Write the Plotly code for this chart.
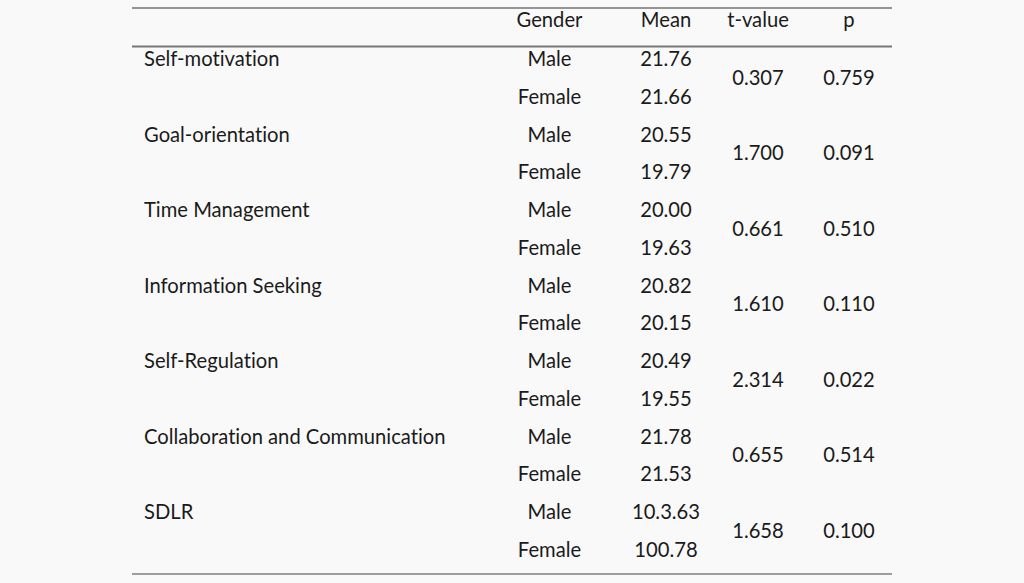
import plotly.graph_objects as go

categories = ["Self-motivation", "Goal-orientation", "Time Management",
              "Information Seeking", "Self-Regulation",
              "Collaboration and Communication", "SDLR"]
male_mean = ["21.76", "20.55", "20.00", "20.82", "20.49", "21.78", "10.3.63"]
female_mean = ["21.66", "19.79", "19.63", "20.15", "19.55", "21.53", "100.78"]
t_values = ["0.307", "1.700", "0.661", "1.610", "2.314", "0.655", "1.658"]
p_values = ["0.759", "0.091", "0.510", "0.110", "0.022", "0.514", "0.100"]
headers = ["Gender", "Mean", "t-value", "p"]

FONT = "Lato"
SIZE = 20.2
COLOR = "#1b1b1b"
BG = "#f9f9f9"

W, H = 1024, 583
x_cat, x_gender, x_mean, x_t, x_p = 144, 549.5, 666, 758, 849
y_header = 22
y0 = 61
pair = 75.5
half = 37.7

fig = go.Figure()
tf = dict(family=FONT, size=SIZE, color=COLOR)

fig.add_trace(go.Scatter(
    x=[x_gender, x_mean, x_t, x_p], y=[y_header] * 4, text=headers,
    mode="text", textposition="middle center", textfont=tf, hoverinfo="skip"))

n = len(categories)
ym = [y0 + i * pair for i in range(n)]
yf = [y + half for y in ym]
yc = [y + half / 2 for y in ym]

fig.add_trace(go.Scatter(
    x=[x_cat] * n, y=ym, text=categories,
    mode="text", textposition="middle right", textfont=tf, hoverinfo="skip"))
fig.add_trace(go.Scatter(
    x=[x_gender] * n * 2, y=ym + yf,
    text=["Male"] * n + ["Female"] * n,
    mode="text", textposition="middle center", textfont=tf, hoverinfo="skip"))
fig.add_trace(go.Scatter(
    x=[x_mean] * n * 2, y=ym + yf, text=male_mean + female_mean,
    mode="text", textposition="middle center", textfont=tf, hoverinfo="skip"))
fig.add_trace(go.Scatter(
    x=[x_t] * n, y=yc, text=t_values,
    mode="text", textposition="middle center", textfont=tf, hoverinfo="skip"))
fig.add_trace(go.Scatter(
    x=[x_p] * n, y=yc, text=p_values,
    mode="text", textposition="middle center", textfont=tf, hoverinfo="skip"))

line_x0, line_x1 = 132, 892
fig.add_shape(type="line", x0=line_x0, x1=line_x1, y0=8, y1=8,
              line=dict(color="#333333", width=1.2))
fig.add_shape(type="line", x0=line_x0, x1=line_x1, y0=46.5, y1=46.5,
              line=dict(color="#777777", width=2))
fig.add_shape(type="line", x0=line_x0, x1=line_x1, y0=574, y1=574,
              line=dict(color="#444444", width=1.2))

fig.update_layout(
    width=W, height=H,
    margin=dict(l=0, r=0, t=0, b=0),
    paper_bgcolor=BG, plot_bgcolor=BG,
    showlegend=False,
    xaxis=dict(range=[0, W], visible=False, fixedrange=True),
    yaxis=dict(range=[H, 0], visible=False, fixedrange=True),
)

fig.write_html(
    "out.html",
    config={"displayModeBar": False, "staticPlot": True},
    post_script=(
        "document.body.style.margin='0';"
        "document.body.style.background='%s';"
        "document.body.style.overflow='hidden';"
        "document.querySelectorAll('text').forEach(function(t){"
        "t.style.fontVariantLigatures='none';"
        "t.style.fontFeatureSettings='\"liga\" 0, \"clig\" 0';});" % BG
    ),
)
